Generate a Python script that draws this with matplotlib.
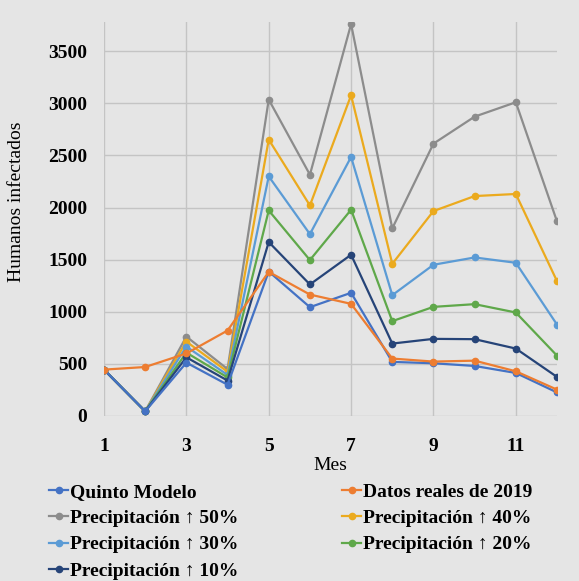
import matplotlib
matplotlib.use("Agg")
import matplotlib.pyplot as plt

plt.rcParams['font.family'] = ['Liberation Serif', 'DejaVu Serif']

months = [1, 2, 3, 4, 5, 6, 7, 8, 9, 10, 11, 12]

quinto_modelo = [445, 45, 512, 300, 1386, 1044, 1182, 519, 506, 480, 413, 226]
datos_reales = [445, 470, 600, 820, 1383, 1165, 1076, 551, 522, 531, 429, 253]
precip_50 = [445, 45, 762, 450, 3036, 2315, 3760, 1800, 2613, 2872, 3010, 1867]
precip_40 = [445, 45, 714, 425, 2652, 2020, 3077, 1460, 1966, 2110, 2130, 1294]
precip_30 = [445, 45, 666, 394, 2299, 1745, 2485, 1159, 1451, 1521, 1470, 877]
precip_20 = [445, 45, 608, 370, 1972, 1496, 1979, 910, 1047, 1073, 993, 579]
precip_10 = [445, 45, 563, 340, 1669, 1262, 1547, 695, 740, 737, 647, 375]

labels = ["Quinto Modelo", "Datos reales de 2019", "Precipitación ↑ 50%",
          "Precipitación ↑ 40%", "Precipitación ↑ 30%", "Precipitación ↑ 20%",
          "Precipitación ↑ 10%"]
series = [quinto_modelo, datos_reales, precip_50, precip_40, precip_30, precip_20, precip_10]
colors = ["#4472C4", "#ED7D31", "#8C8C8C", "#EBAA1E", "#5B9BD5", "#5FA84A", "#264478"]

x_ticks = [1, 3, 5, 7, 9, 11]
y_ticks = [0, 500, 1000, 1500, 2000, 2500, 3000, 3500]

fig = plt.figure(figsize=(5.79, 5.81), dpi=100, facecolor="#E5E5E5")
ax = fig.add_axes([104/579, 1-416/581, (557-104)/579, (416-22)/581])
ax.set_facecolor("none")

order = [2, 3, 4, 5, 6, 0, 1]
handles = {}
for i in order:
    h, = ax.plot(months, series[i], color=colors[i], lw=1.6, marker='o', ms=4.5,
                 label=labels[i], zorder=3)
    handles[i] = h

ax.set_xlim(1, 12)
ax.set_ylim(0, 3780)
ax.set_xticks(x_ticks)
ax.set_yticks(y_ticks)
ax.grid(True, color="#C4C4C4", lw=1.0, zorder=0)
for s in ax.spines.values():
    s.set_visible(False)
ax.tick_params(length=0, labelsize=14)
for t in ax.get_xticklabels() + ax.get_yticklabels():
    t.set_fontweight('bold')
ax.tick_params(axis='x', pad=15.5)
ax.tick_params(axis='y', pad=12)

ax.set_xlabel("Mes", fontsize=14, labelpad=2)
ax.set_ylabel("Humanos infectados", fontsize=14)
ax.yaxis.set_label_coords(-0.175, 0.543)

leg_order = [0, 2, 4, 6, 1, 3, 5]
leg = fig.legend([handles[i] for i in leg_order], [labels[i] for i in leg_order],
                 ncol=2, loc='upper left', bbox_to_anchor=(49/579, 1-483/581),
                 frameon=False, prop={'weight': 'bold', 'size': 14},
                 handlelength=1.0, handletextpad=0.1, columnspacing=5.3,
                 labelspacing=0.45, borderpad=0, borderaxespad=0)

fig.savefig("out.png", dpi=100, facecolor=fig.get_facecolor())
